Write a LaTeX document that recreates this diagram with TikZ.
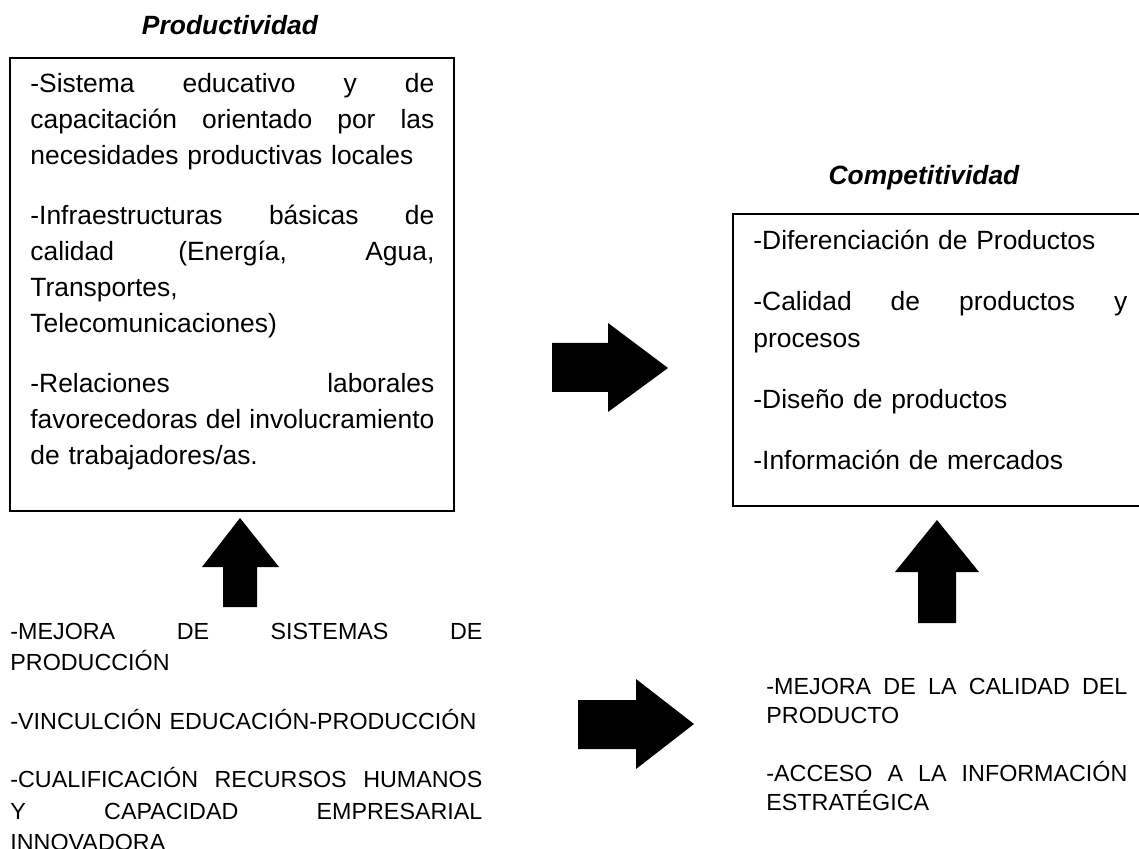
\documentclass[tikz,border=0pt]{standalone}
\usepackage{fontspec}
\setmainfont{Liberation Sans}
\usepackage{xcolor}
\usepackage{tikz}

% one justified line, as wide as the text block
\newcommand{\justline}[1]{\makebox[\hsize][s]{\spaceskip=0.28em plus 1fil\relax #1}}

\tikzset{
  frame/.style={line width=0.9pt},
  blockarrow/.style={fill=black},
  heading/.style={font=\fontsize{13.2}{15}\selectfont\bfseries\itshape, anchor=base, inner sep=0pt},
  listtext/.style={anchor=base west, inner sep=0pt, align=left}
}

\begin{document}
\begin{tikzpicture}[x=0.5pt, y=-0.5pt]
    \useasboundingbox (0,0) rectangle (1139,849);
    \clip (0,0) rectangle (1139,849);

    % Titles
    \node[heading] (prodtitle) at (230,35) {Productividad};
    \node[heading] (comptitle) at (924,185) {Competitividad};

    % Draw the boxes
    \draw[frame] (10,58) rectangle (454,511);
    \draw[frame] (733,214) rectangle (1160,506);

    % Text inside the boxes
    \node[listtext, text width=202pt, font=\fontsize{13.2}{18}\selectfont] (prodtext) at (30,93) {%
      \justline{-Sistema educativo y de}\\
      \justline{capacitación orientado por las}\\
      necesidades productivas locales\\[12pt]
      \justline{-Infraestructuras básicas de}\\
      \justline{calidad (Energía, Agua,}\\
      Transportes,\\
      Telecomunicaciones)\\[12pt]
      \justline{-Relaciones laborales}\\
      \justline{favorecedoras del involucramiento}\\
      de trabajadores/as.};
    \node[listtext, text width=187pt, font=\fontsize{13.2}{18.5}\selectfont] (comptext) at (753,250) {%
      -Diferenciación de Productos\\[12pt]
      \justline{-Calidad de productos y}\\
      procesos\\[12pt]
      -Diseño de productos\\[12pt]
      -Información de mercados};

    % Text below the boxes
    \node[listtext, text width=236pt, font=\fontsize{11.65}{15.75}\selectfont] (prodlist) at (10,639) {%
      \justline{-MEJORA DE SISTEMAS DE}\\
      PRODUCCIÓN\\[13.5pt]
      -VINCULCIÓN EDUCACIÓN-PRODUCCIÓN\\[13.5pt]
      \justline{-CUALIFICACIÓN RECURSOS HUMANOS}\\
      \justline{Y CAPACIDAD EMPRESARIAL}\\
      INNOVADORA};
    \node[listtext, text width=180.5pt, font=\fontsize{11.65}{14.75}\selectfont] (complist) at (766,694) {%
      \justline{-MEJORA DE LA CALIDAD DEL}\\
      PRODUCTO\\[14pt]
      \justline{-ACCESO A LA INFORMACIÓN}\\
      ESTRATÉGICA};

    % Block arrows
    \fill[blockarrow] (552,343) -- (608,343) -- (608,323) -- (668,368) -- (608,412) -- (608,392) -- (552,392) -- cycle;
    \fill[blockarrow] (578,700) -- (636,700) -- (636,679) -- (694,724) -- (636,769) -- (636,749) -- (578,749) -- cycle;
    \fill[blockarrow] (223,607) -- (223,567) -- (202,567) -- (240,518) -- (279,567) -- (257,567) -- (257,607) -- cycle;
    \fill[blockarrow] (918,623) -- (918,572) -- (895,572) -- (937,520) -- (979,572) -- (956,572) -- (956,623) -- cycle;
\end{tikzpicture}
\end{document}
